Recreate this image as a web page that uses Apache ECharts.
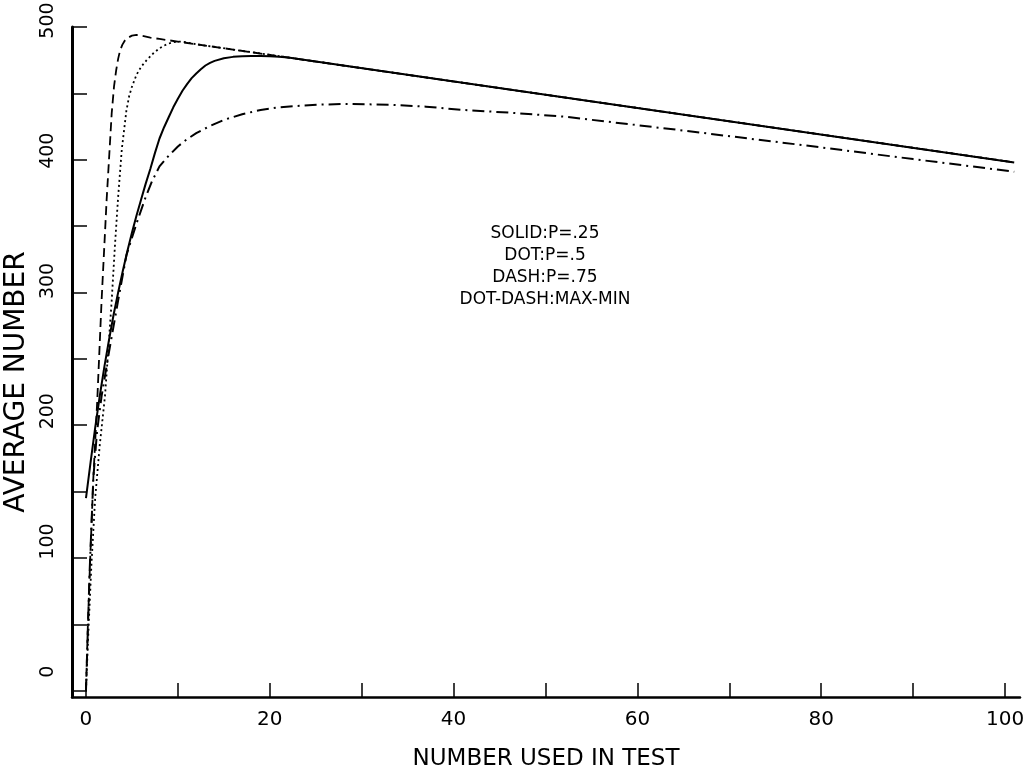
<!DOCTYPE html>
<html>
<head>
<meta charset="utf-8">
<script src="https://cdn.jsdelivr.net/npm/echarts@6/dist/echarts.min.js"></script>
<style>
  html, body { margin: 0; padding: 0; background: #fff; }
  #chart { width: 1028px; height: 767px; }
</style>
</head>
<body>
<div id="chart"></div>
<script>
// curve readings, [number used in test, average number]
var solidP25 = [
  [0, 145], [0.5, 172], [1, 198], [1.5, 222], [2, 244], [2.5, 264], [3, 283],
  [3.5, 300], [4, 316], [4.5, 331], [5, 345], [5.5, 358], [6, 370], [6.5, 382],
  [7, 393], [7.5, 405], [8, 416], [8.5, 424.5], [9, 432], [9.5, 439.5],
  [10, 446], [10.5, 452], [11, 457], [11.5, 461.5], [12, 465], [12.5, 468.2],
  [13, 471], [13.5, 473], [14, 474.5], [15, 476.5], [16, 477.5], [17, 478],
  [18, 478.2], [19, 478.2], [20, 478], [21, 477.6], [22, 477], [101, 398]
];
var dotP50 = [
  [0, 0], [0.3, 50], [0.6, 96], [1, 145], [1.5, 185], [2.07, 222], [2.43, 257],
  [2.8, 294], [3.15, 335], [3.5, 372], [3.9, 408], [4.4, 437], [4.7, 448],
  [5, 455], [5.5, 464], [6, 470], [6.6, 475], [7.3, 480], [8, 484],
  [8.5, 486], [9, 487.5], [9.5, 488.5], [10, 489], [10.5, 489], [11, 488.3],
  [12, 487], [13, 486], [101, 398]
];
var dashP75 = [
  [0, 0], [0.2, 48], [0.44, 96], [0.8, 160], [1.23, 219], [1.7, 294],
  [2.25, 370], [2.8, 435], [3.05, 455], [3.3, 468], [3.5, 476], [3.7, 482],
  [3.95, 486.5], [4.2, 489.5], [4.6, 492], [5, 493.5], [5.5, 494], [6, 493.5],
  [7, 492], [8, 491], [101, 398]
];
var dotDashMaxMin = [
  [0, 0], [0.4, 90], [0.8, 160], [1.2, 195], [1.7, 222], [2.5, 255],
  [3.5, 294], [4.4, 328], [5.5, 352], [6.5, 372], [7.2, 384], [8, 395],
  [9, 403], [10, 410], [11, 415.5], [12, 420], [13.5, 425.5], [15, 430],
  [17, 434.3], [19, 437.5], [21, 439.5], [23, 440.5], [25.5, 441.5], [28, 442],
  [33, 441.5], [37, 440], [41, 437.5], [46, 435.5], [52, 432.5], [65, 422],
  [78, 411], [90, 400.5], [101, 391]
];
var xTicks = [0, 10, 20, 30, 40, 50, 60, 70, 80, 90, 100];
var xLabels = [0, 20, 40, 60, 80, 100];
var yTicks = [0, 50, 100, 150, 200, 250, 300, 350, 400, 450, 500];
var yLabels = [0, 100, 200, 300, 400, 500];
var noteLines = ['SOLID:P=.25', 'DOT:P=.5', 'DASH:P=.75', 'DOT-DASH:MAX-MIN'];

var font = 'DejaVu Sans';
var chart = echarts.init(document.getElementById('chart'));

// y labels sit a little above their ticks, more so near the bottom
var yLabelRich = {};
yLabels.forEach(function (v) {
  yLabelRich['p' + v] = {
    color: '#000', fontFamily: font, fontSize: 19,
    padding: [0, 0, 0, 38 - 0.05 * v]
  };
});

function curve(name, data, type, width) {
  return {
    name: name,
    type: 'line',
    data: data,
    showSymbol: false,
    smooth: false,
    animation: false,
    lineStyle: { color: '#000', width: width, type: type }
  };
}

chart.setOption({
  backgroundColor: '#fff',
  animation: false,
  grid: { left: 72, right: 8, top: 27, bottom: 70, outerBoundsMode: 'none' },
  xAxis: {
    type: 'value',
    min: -1.52,
    max: 101.63,
    name: 'NUMBER USED IN TEST',
    nameLocation: 'middle',
    nameGap: 51,
    nameTextStyle: { color: '#000', fontFamily: font, fontSize: 23 },
    axisLine: { onZero: false, lineStyle: { color: '#000', width: 2.5 } },
    axisTick: {
      inside: true, length: 14, customValues: xTicks,
      lineStyle: { color: '#000', width: 1.5 }
    },
    axisLabel: {
      customValues: xLabels, margin: 13, color: '#000',
      fontFamily: font, fontSize: 20
    },
    splitLine: { show: false }
  },
  yAxis: {
    type: 'value',
    min: -4.75,
    max: 500,
    name: 'AVERAGE NUMBER',
    nameLocation: 'middle',
    nameGap: 35,
    nameTextStyle: {
      color: '#000', fontFamily: font, fontSize: 28, padding: [0, 40, 0, 0]
    },
    axisLine: { onZero: false, lineStyle: { color: '#000', width: 3 } },
    axisTick: {
      inside: true, length: 15, customValues: yTicks,
      lineStyle: { color: '#000', width: 1.5 }
    },
    axisLabel: {
      customValues: yLabels, rotate: 90, margin: 14,
      color: '#000', fontFamily: font, fontSize: 19,
      formatter: function (v) { return '{p' + v + '|' + v + '}'; },
      rich: yLabelRich
    },
    splitLine: { show: false }
  },
  graphic: [{
    type: 'text',
    x: 545,
    y: 223,
    style: {
      text: noteLines.join('\n'),
      fill: '#000',
      font: '17px "' + font + '"',
      align: 'center',
      lineHeight: 22
    }
  }],
  series: [
    curve('SOLID:P=.25', solidP25, 'solid', 2),
    curve('DOT:P=.5', dotP50, [2, 3], 1.8),
    curve('DASH:P=.75', dashP75, [9, 5], 1.8),
    curve('DOT-DASH:MAX-MIN', dotDashMaxMin, [12, 5, 2, 5], 2)
  ]
});
</script>
</body>
</html>
